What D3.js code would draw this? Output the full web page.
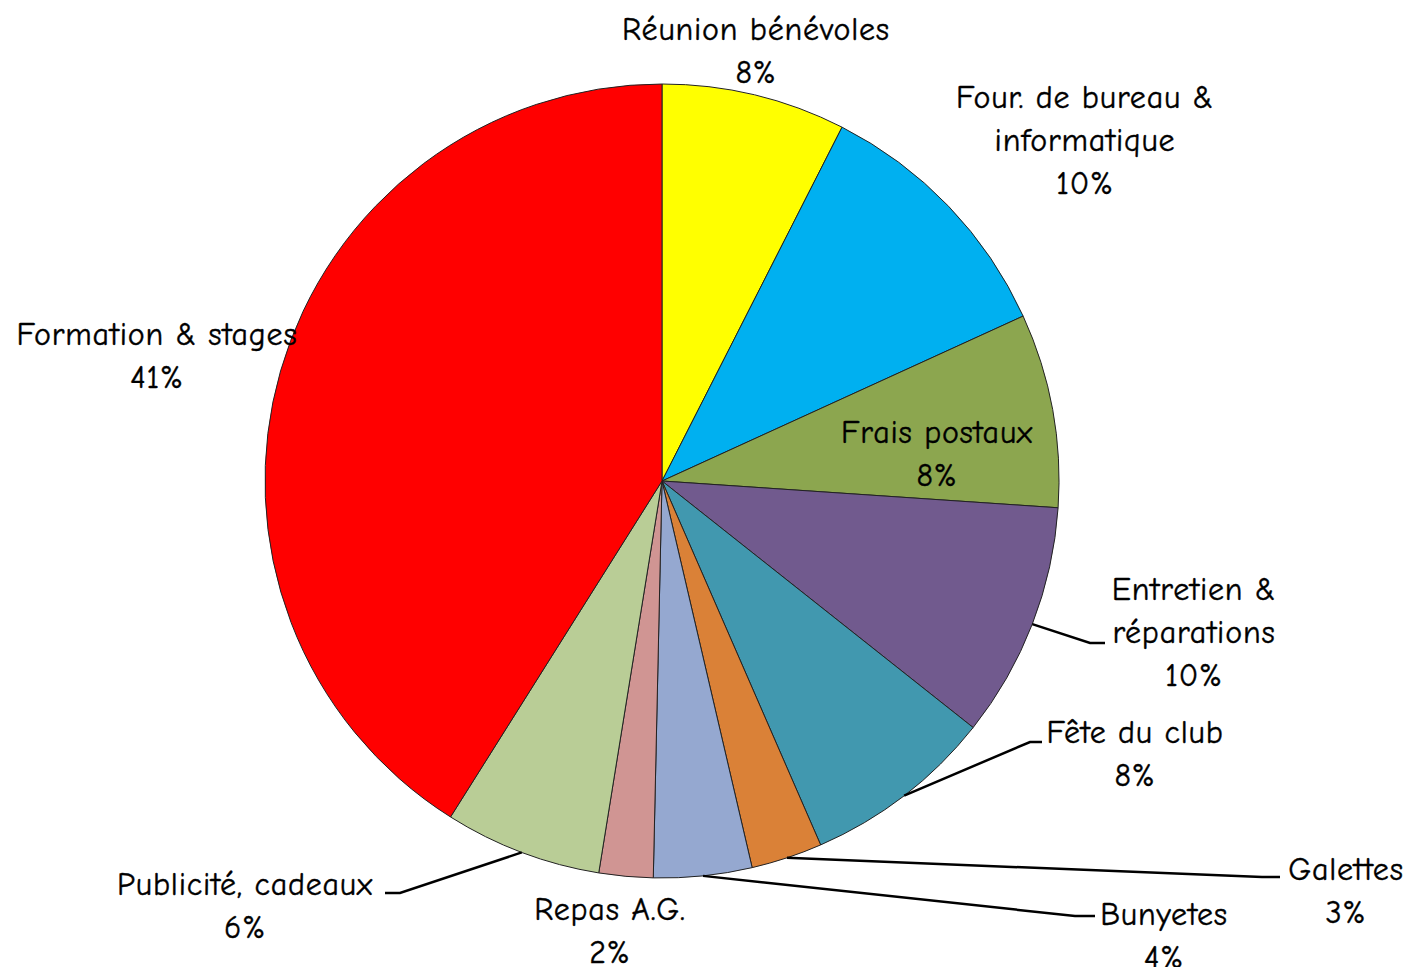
<!DOCTYPE html>
<html>
<head>
<meta charset="utf-8">
<script src="https://cdn.jsdelivr.net/npm/d3@7.9.0/dist/d3.min.js"></script>
<style>
  html, body { margin: 0; padding: 0; background: #fff; }
  svg text { font-family: "Comic Sans MS", "Comic Neue", "DejaVu Sans", sans-serif; font-size: 32px; letter-spacing: 0.8px; fill: #000; stroke: #000; stroke-width: 0.4px; }
</style>
</head>
<body>
<svg width="1416" height="967"></svg>
<script>
// data, clockwise from 12 o'clock
const categories = ['Réunion bénévoles', 'Four. de bureau & informatique', 'Frais postaux',
  'Entretien & réparations', 'Fête du club', 'Galettes', 'Bunyetes', 'Repas A.G.',
  'Publicité, cadeaux', 'Formation & stages'];
const values = [7.5, 10.7, 7.9, 9.6, 7.8, 2.9, 4.0, 2.2, 6.4, 41.1];
const percentLabels = ['8%', '10%', '8%', '10%', '8%', '3%', '4%', '2%', '6%', '41%'];
const labelLines = [
  ['Réunion bénévoles'],
  ['Four. de bureau &', 'informatique'],
  ['Frais postaux'],
  ['Entretien &', 'réparations'],
  ['Fête du club'],
  ['Galettes'],
  ['Bunyetes'],
  ['Repas A.G.'],
  ['Publicité, cadeaux'],
  ['Formation & stages']
];
const colors = ['#FFFF00', '#00B0F0', '#8CA64F', '#715A8E', '#4198AF', '#DA8137',
  '#95A8D0', '#D09593', '#B9CD96', '#FF0000'];

// layout: label centre (first line) and leader elbow/end, null = no leader
const labelPos = [[756, 28], [1085, 96], [937, 431], [1194, 588], [1135, 731],
  [1346, 868], [1164, 913], [610, 908], [245, 883], [157, 333]];
const leaders = [null, null, null, [[1090, 643], [1105, 643]], [[1030, 742], [1042, 742]],
  [[1262, 877], [1280, 877]], [[1075, 916], [1095, 916]], null, [[400, 893], [385, 893]], null];

const cx = 662, cy = 481, radius = 397, lineH = 43;

const svg = d3.select('svg');
const g = svg.append('g').attr('transform', `translate(${cx},${cy})`);

const pie = d3.pie().sort(null).value(d => d);
const arcData = pie(values);
const arcGen = d3.arc().innerRadius(0).outerRadius(radius);

g.selectAll('path')
  .data(arcData)
  .join('path')
  .attr('d', arcGen)
  .attr('fill', (d, i) => colors[i])
  .attr('stroke', '#222')
  .attr('stroke-width', 1);

// leader lines from arc middle
arcData.forEach((d, i) => {
  if (!leaders[i]) return;
  const a = (d.startAngle + d.endAngle) / 2;
  const start = [cx + radius * Math.sin(a), cy - radius * Math.cos(a)];
  svg.append('polyline')
    .attr('points', [start, ...leaders[i]].map(p => p.join(',')).join(' '))
    .attr('fill', 'none')
    .attr('stroke', '#000')
    .attr('stroke-width', 2.5);
});

// labels
categories.forEach((c, i) => {
  const lines = labelLines[i].concat([percentLabels[i]]);
  const t = svg.append('text')
    .attr('text-anchor', 'middle')
    .attr('x', labelPos[i][0])
    .attr('y', labelPos[i][1]);
  lines.forEach((l, j) => {
    t.append('tspan')
      .attr('x', labelPos[i][0])
      .attr('y', labelPos[i][1] + j * lineH)
      .attr('dy', '0.36em')
      .text(l);
  });
});
</script>
</body>
</html>
